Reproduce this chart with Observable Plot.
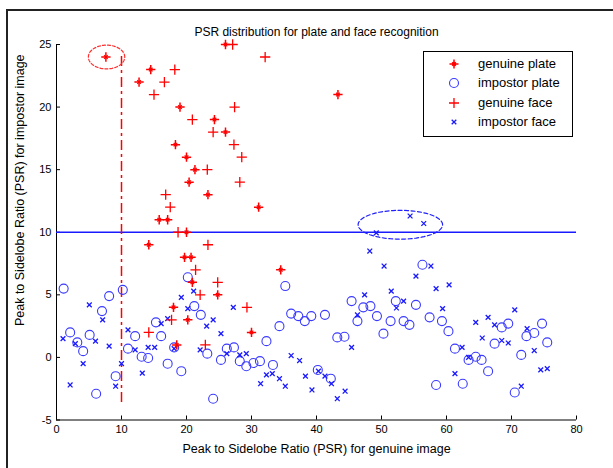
<!DOCTYPE html>
<html><head><meta charset="utf-8">
<script src="https://cdn.jsdelivr.net/npm/d3@7"></script>
<script src="https://cdn.jsdelivr.net/npm/@observablehq/plot@0.6"></script>
<style>
body{margin:0;background:#fff;}
#wrap{position:relative;width:613px;height:468px;overflow:hidden;font-family:"Liberation Sans",Arial,sans-serif;}
#frame{position:absolute;left:6px;top:9px;width:700px;height:600px;border-top:2px solid #222;border-left:2px solid #222;}
#chart{position:absolute;left:0;top:0;}
#legend{position:absolute;left:423px;top:51px;width:148px;height:84px;border:1px solid #000;background:#fff;font-size:13px;color:#000;}
.row{position:absolute;left:0;height:16px;line-height:16px;}
.row svg{position:absolute;left:22px;top:0;}
.row span{position:absolute;left:54px;top:0;white-space:nowrap;}
</style></head><body>
<div id="wrap"><div id="frame"></div><div id="chart"></div><div id="legend"></div></div>
<script>
const titleText = "PSR distribution for plate and face recognition";
const xLabelText = "Peak to Sidelobe Ratio (PSR) for genuine image";
const yLabelText = "Peak to Sidelobe Ratio (PSR) for impostor image";
const xTicks = [0, 10, 20, 30, 40, 50, 60, 70, 80];
const yTicks = [-5, 0, 5, 10, 15, 20, 25];
const seriesNames = ["genuine plate", "impostor plate", "genuine face", "impostor face"];

const genuinePlateX = [7.6, 14.5, 12.7, 19.0, 24.3, 26.0, 18.3, 20.0, 21.3, 20.4, 23.3, 15.8, 17.1, 20.0, 26.0, 43.3, 31.1, 14.2, 19.7, 20.7, 20.9, 24.8, 18.0, 20.2, 18.5, 34.5, 30.0];
const genuinePlateY = [24, 23, 22, 20, 19, 18, 17, 16, 15, 14, 13, 11, 11, 10, 25, 21, 12, 9, 8, 8, 6, 5, 4, 3, 1, 7, 2];

const genuineFaceX = [18.2, 16.6, 15.0, 20.9, 24.1, 27.4, 27.3, 28.5, 23.2, 28.2, 16.8, 17.5, 18.7, 27.1, 32.1, 23.3, 21.4, 24.8, 22.1, 17.7, 14.2, 22.9, 29.3];
const genuineFaceY = [23, 22, 21, 19, 18, 20, 17, 16, 15, 14, 13, 12, 10, 25, 24, 9, 7, 6, 5, 3, 2, 1, 4];

const impostorPlateX = [1.1, 2.1, 3.2, 4.1, 5.1, 7.0, 8.1, 10.2, 6.1, 9.1, 11.0, 12.1, 13.1, 14.1, 15.3, 16.1, 17.1, 18.1, 19.2, 20.2, 21.2, 22.2, 23.2, 24.1, 25.3, 26.2, 27.3, 28.2, 29.2, 30.3, 31.3, 32.3, 33.3, 34.3, 35.2, 36.1, 37.2, 38.2, 39.2, 40.2, 41.3, 42.2, 43.2, 44.3, 45.4, 46.3, 47.2, 48.3, 49.3, 50.3, 51.4, 52.2, 53.4, 54.3, 55.3, 56.3, 57.4, 59.3, 60.3, 61.3, 58.4, 62.5, 63.4, 64.5, 65.4, 66.4, 67.4, 68.5, 69.5, 71.5, 72.3, 73.5, 74.7, 75.5, 70.5];
const impostorPlateY = [5.5, 2.0, 1.2, 0.5, 1.8, 3.7, 4.9, 5.4, -2.9, -1.5, 0.7, 1.7, 0.05, -0.05, 2.8, 1.7, -0.5, 0.8, -1.1, 6.4, 4.1, 3.4, 0.3, -3.3, -0.2, 0.7, 0.8, -0.3, -0.7, -0.45, -0.3, 1.3, -0.6, 2.5, 5.7, 3.5, 3.3, 2.9, 3.3, -1.0, 3.4, -1.7, 1.6, 1.65, 4.5, 2.9, 4.0, 4.1, 3.3, 1.9, 2.9, 4.5, 2.9, 2.6, 4.2, 7.4, 3.2, 2.9, 2.1, 0.7, -2.2, -2.1, -0.2, 0.05, -0.2, -1.1, 1.1, 2.4, 2.7, 0.2, 1.7, 1.95, 2.7, 1.2, -2.8];

const impostorFaceX = [1.0, 2.1, 2.9, 4.1, 5.05, 6.0, 7.1, 8.1, 9.1, 10.0, 11.0, 12.1, 13.2, 14.1, 15.1, 16.1, 17.1, 18.1, 19.2, 20.2, 21.1, 22.1, 23.1, 24.1, 25.3, 26.2, 27.2, 28.2, 29.2, 31.4, 32.3, 33.2, 34.3, 35.2, 36.1, 37.4, 38.3, 39.3, 40.3, 41.3, 42.3, 43.2, 44.4, 45.4, 46.3, 47.4, 48.2, 50.4, 51.5, 52.3, 53.4, 55.3, 49.2, 54.4, 56.5, 57.6, 58.4, 60.4, 59.4, 62.4, 61.3, 64.5, 65.5, 66.4, 67.4, 68.5, 69.5, 70.5, 71.5, 72.4, 73.5, 74.5, 75.5, 63.4];
const impostorFaceY = [1.5, -2.2, 1.1, -0.5, 4.2, 1.3, 3.0, 0.9, -2.3, -0.5, 2.2, 0.6, -1.25, 0.8, 0.8, 2.7, 3.1, 0.7, 4.8, 3.9, 5.3, 0.6, 2.5, 3.0, 1.9, 0.3, 4.0, 0.2, 0.3, -2.1, -1.4, -1.3, -1.7, -2.3, 0.15, -0.25, -1.5, -2.6, -1.1, -1.5, -2.1, -3.3, -2.7, 0.8, 3.4, 5.0, 8.5, 7.3, 5.3, 3.95, 4.5, 6.5, 9.95, 11.3, 10.7, 7.3, 5.5, 5.8, 3.9, 0.8, -1.3, 2.8, 1.55, 3.2, 2.6, 1.35, 1.15, 3.8, -2.3, 2.3, 0.55, -1.0, -0.9, 0.0];

// annotations
const thresholdY = [10];
const thresholdXLine = [{x: 10, y1: -3.6, y2: 24.2}];
const ellipseCx = [7.7, 52.9];
const ellipseCy = [24.0, 10.6];
const ellipseRx = [2.8, 6.5];
const ellipseRy = [0.95, 1.15];
const ellipseColor = ["#ff3030", "#2020ff"];

const RED = "#ff0000", BLUE = "#1a1aff";
const zip = (xs, ys) => xs.map((x, i) => ({x, y: ys[i]}));
const gPlate = zip(genuinePlateX, genuinePlateY);
const gFace = zip(genuineFaceX, genuineFaceY);
const iPlate = zip(impostorPlateX, impostorPlateY);
const iFace = zip(impostorFaceX, impostorFaceY);

const ellipsePts = [];
ellipseCx.forEach((cx, k) => {
  d3.range(0, 361, 4).forEach(a => {
    const t = a * Math.PI / 180;
    ellipsePts.push({k, x: cx + ellipseRx[k] * Math.cos(t), y: ellipseCy[k] + ellipseRy[k] * Math.sin(t)});
  });
});

const font = "Liberation Sans, Arial, sans-serif";
const plot = Plot.plot({
  width: 613, height: 468,
  marginLeft: 56, marginRight: 37, marginTop: 44, marginBottom: 48.5,
  style: {fontFamily: font, fontSize: "11px", background: "transparent", overflow: "visible", color: "#000"},
  x: {domain: [0, 80]},
  y: {domain: [-5, 25]},
  marks: [
    Plot.ruleY([-5], {stroke: "#000", strokeWidth: 1}),
    Plot.ruleX([0], {stroke: "#000", strokeWidth: 1}),
    Plot.axisX({ticks: xTicks, tickSize: -4, tickPadding: 9, label: null, fontSize: 11, tickFormat: d => String(d)}),
    Plot.axisY({ticks: yTicks, tickSize: -4, tickPadding: 9, label: null, fontSize: 11, tickFormat: d => String(d)}),
    Plot.ruleY(thresholdY, {stroke: BLUE, strokeWidth: 1.5}),
    Plot.ruleX(thresholdXLine, {x: "x", y1: "y1", y2: "y2", stroke: RED, strokeWidth: 1.5, strokeDasharray: "10,4,3,4"}),
    Plot.line(ellipsePts.filter(d => d.k === 0), {x: "x", y: "y", stroke: ellipseColor[0], strokeWidth: 1.2, strokeDasharray: "3,2", curve: "linear"}),
    Plot.line(ellipsePts.filter(d => d.k === 1), {x: "x", y: "y", stroke: ellipseColor[1], strokeWidth: 1.2, strokeDasharray: "4,2.5", curve: "linear"}),
    Plot.dot(iPlate, {x: "x", y: "y", r: 4.5, stroke: "#3a3aff", strokeWidth: 1.1, fill: "none"}),
    Plot.dot(iFace, {x: "x", y: "y", symbol: "times", r: 2.3, stroke: BLUE, strokeWidth: 1.3}),
    Plot.dot(gFace, {x: "x", y: "y", symbol: "plus", r: 3.4, stroke: RED, strokeWidth: 1.3}),
    Plot.dot(gPlate, {x: "x", y: "y", symbol: "plus", r: 3.1, stroke: RED, strokeWidth: 1.5}),
    Plot.dot(gPlate, {x: "x", y: "y", symbol: "times", r: 1.8, stroke: RED, strokeWidth: 1.2}),
    Plot.text([titleText], {frameAnchor: "top", dy: -17, fontSize: 12, fill: "#000"}),
    Plot.text([xLabelText], {frameAnchor: "bottom", dy: 33, fontSize: 12.5, fill: "#000"}),
    Plot.text([yLabelText], {frameAnchor: "left", textAnchor: "middle", dx: -37, dy: -42, rotate: -90, fontSize: 12.5, fill: "#000"})
  ]
});
document.getElementById("chart").appendChild(plot);

// legend
const sym = {
  "genuine plate": `<path d="M8,3.5V12.5M3.5,8H12.5M6.2,6.2L9.8,9.8M6.2,9.8L9.8,6.2" stroke="${RED}" stroke-width="1.5" fill="none"/>`,
  "impostor plate": `<circle cx="8" cy="8" r="4.5" stroke="#3a3aff" stroke-width="1.1" fill="none"/>`,
  "genuine face": `<path d="M8,3V13M3,8H13" stroke="${RED}" stroke-width="1.3" fill="none"/>`,
  "impostor face": `<path d="M5.7,5.7L10.3,10.3M5.7,10.3L10.3,5.7" stroke="${BLUE}" stroke-width="1.3" fill="none"/>`
};
const leg = document.getElementById("legend");
seriesNames.forEach((name, i) => {
  const row = document.createElement("div");
  row.className = "row";
  row.style.top = (4 + i * 19.3) + "px";
  row.innerHTML = `<svg width="16" height="16">${sym[name]}</svg><span>${name}</span>`;
  leg.appendChild(row);
});
</script>
</body></html>
